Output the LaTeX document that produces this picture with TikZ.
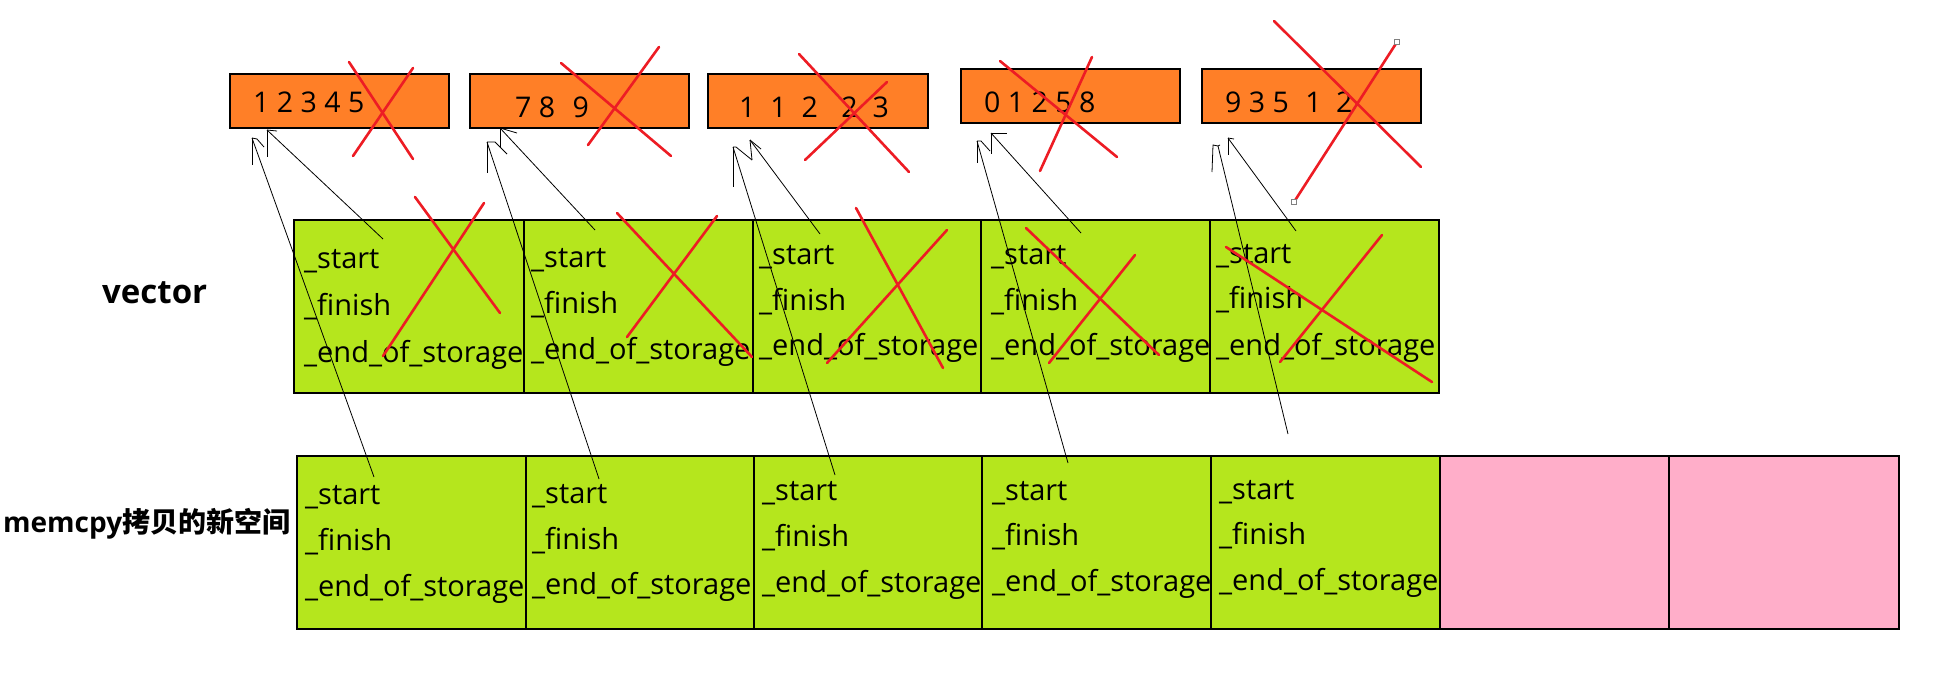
\documentclass[tikz,border=0pt]{standalone}
\usepackage{fontspec}
\setmainfont{Open Sans}
\newfontfamily\cjk{Noto Sans CJK SC}
\definecolor{porange}{RGB}{255,127,39}
\definecolor{pgreen}{RGB}{181,230,29}
\definecolor{ppink}{RGB}{255,174,201}
\definecolor{pred}{RGB}{237,28,36}
\begin{document}
\begin{tikzpicture}[x=1pt,y=-1pt,
  obox/.style={draw=black, line width=1.2pt, fill=porange, inner sep=0pt, minimum height=54pt},
  gbox/.style={draw=black, line width=1.2pt, fill=pgreen, inner sep=0pt, minimum height=173pt},
  pbox/.style={draw=black, line width=1.2pt, fill=ppink, inner sep=0pt, minimum height=173pt},
  txt/.style={inner sep=0pt, anchor=base west, font=\fontsize{29}{34}\selectfont},
  dig/.style={inner sep=0pt, anchor=base west, font=\fontsize{28.5}{34}\selectfont},
  lbl/.style={inner sep=0pt, anchor=base west},
  cross/.style={draw=pred, line width=2.6pt, line cap=round},
  conn/.style={draw=black, line width=0.8pt},
  handle/.style={draw=gray, fill=white, line width=0.6pt},
]
\useasboundingbox (0,0) rectangle (1960,686);

% orange boxes
\node[obox, minimum width=219pt] (o1) at (339.5,101) {};
\node[obox, minimum width=219pt] (o2) at (579.5,101) {};
\node[obox, minimum width=220pt] (o3) at (818,101) {};
\node[obox, minimum width=219pt] (o4) at (1070.5,96) {};
\node[obox, minimum width=219pt] (o5) at (1311.5,96) {};

\node[dig] (o1t) at (253,112) {1 2 3 4 5};
\node[dig] (o2t) at (515,117) {7 8\hspace{10pt} 9};
\node[dig] (o3t) at (739,117) {1\hspace{7.5pt} 1\hspace{7.5pt} 2\hspace{16pt} 2\hspace{7.5pt} 3};
\node[dig] (o4t) at (984,112) {0 1 2 5 8};
\node[dig] (o5t) at (1225,112) {9 3 5\hspace{9pt} 1\hspace{7pt} 2};

% vector row
\node[gbox, minimum width=230pt] (v1) at (409,306.5) {};
\node[gbox, minimum width=229pt] (v2) at (638.5,306.5) {};
\node[gbox, minimum width=228pt] (v3) at (867,306.5) {};
\node[gbox, minimum width=229pt] (v4) at (1095.5,306.5) {};
\node[gbox, minimum width=229pt] (v5) at (1324.5,306.5) {};

% new space row
\node[gbox, minimum width=229pt] (n1) at (411.5,542.5) {};
\node[gbox, minimum width=228pt] (n2) at (640,542.5) {};
\node[gbox, minimum width=228pt] (n3) at (868,542.5) {};
\node[gbox, minimum width=229pt] (n4) at (1096.5,542.5) {};
\node[gbox, minimum width=229pt] (n5) at (1325.5,542.5) {};
\node[pbox, minimum width=229pt] (n6) at (1554.5,542.5) {};
\node[pbox, minimum width=230pt] (n7) at (1784,542.5) {};

\foreach \i/\x/\a/\b/\c in {1/304/268/315/362, 2/531/267/313/359, 3/759/264/310/355, 4/991/264/310/355, 5/1216/263/308/355}{
  \node[txt] (vs\i) at (\x,\a) {\_start};
  \node[txt] (vf\i) at (\x,\b) {\_finish};
  \node[txt] (ve\i) at (\x,\c) {\_end\_of\_storage};
}
\foreach \i/\x/\a/\b/\c in {1/305/504/550/596, 2/532/503/549/594, 3/762/500/546/592, 4/992/500/545/591, 5/1219/499/544/590}{
  \node[txt] (ns\i) at (\x,\a) {\_start};
  \node[txt] (nf\i) at (\x,\b) {\_finish};
  \node[txt] (ne\i) at (\x,\c) {\_end\_of\_storage};
}

% labels
\node[lbl, font=\fontsize{33}{38}\selectfont\bfseries] (lv) at (102,303) {vector};
\node[lbl, font=\fontsize{28}{34}\selectfont\bfseries] (ln) at (3,532) {memcpy{\cjk\bfseries 拷贝的新空间}};

% connectors
\foreach \n/\sx/\sy/\tx/\ty in {
  1v/383/239/267/130, 1n/374/477/252/138,
  2v/595/230/500/128, 2n/599/479/487/142,
  3v/820/234/750/140, 3n/835/475/733/147,
  4v/1081/233/991/133, 4n/1068/463/977/141,
  5v/1296/231/1228/138, 5n/1288/434/1218/146}{
  \coordinate (s\n) at (\sx,\sy);
  \coordinate (t\n) at (\tx,\ty);
  \draw[conn] (s\n) -- (t\n);
}
% hand-drawn heads
\draw[conn] (t1v) -- ++(0,27); \draw[conn] (t1v) -- ++(10,1);
\draw[conn] (t1n) -- ++(0,27); \draw[conn] (t1n) -- ++(5,1) -- ++(7,8);
\draw[conn] (t2v) -- ++(0,19); \draw[conn] (t2v) -- ++(17,5);
\draw[conn] (t2n) -- ++(0,31); \draw[conn] (t2n) -- ++(8,0) -- ++(12,12);
\draw[conn] (t3v) -- ++(2,20); \draw[conn] (t3v) -- ++(11,9);
\draw[conn] (t3n) -- ++(0,40); \draw[conn] (t3n) -- ++(3,0) -- ++(16,13);
\draw[conn] (t4v) -- ++(0,21); \draw[conn] (t4v) -- ++(16,0);
\draw[conn] (t4n) -- ++(0,22); \draw[conn] (t4n) -- ++(4,0) -- ++(9,10);
\draw[conn] (t5v) -- ++(0,17); \draw[conn] (t5v) -- ++(6,1);
\draw[conn] (t5n) -- ++(-5,-1) -- ++(-1,27); \draw[conn] (t5n) -- ++(2,-1);

% red crosses
\draw[cross] (349,62) -- (413,159);   \draw[cross] (413,68) -- (353,156);
\draw[cross] (561,63) -- (671,156);   \draw[cross] (659,47) -- (588,145);
\draw[cross] (799,54) -- (909,172);   \draw[cross] (887,82) -- (805,160);
\draw[cross] (1000,61) -- (1117,157); \draw[cross] (1092,57) -- (1040,171);
\draw[cross] (1274,21) -- (1421,167); \draw[cross] (1397,42) -- (1294,202);
\draw[cross] (415,197) -- (500,313);  \draw[cross] (484,203) -- (383,356);
\draw[cross] (617,213) -- (752,357);  \draw[cross] (717,216) -- (627,337);
\draw[cross] (856,208) -- (943,368);  \draw[cross] (947,230) -- (827,363);
\draw[cross] (1026,228) -- (1159,355);\draw[cross] (1135,255) -- (1049,363);
\draw[cross] (1226,247) -- (1432,382);\draw[cross] (1382,235) -- (1280,362);
\draw[handle] (1394.5,39.5) rectangle (1399.5,44.5);
\draw[handle] (1291.5,199.5) rectangle (1296.5,204.5);
\end{tikzpicture}
\end{document}
